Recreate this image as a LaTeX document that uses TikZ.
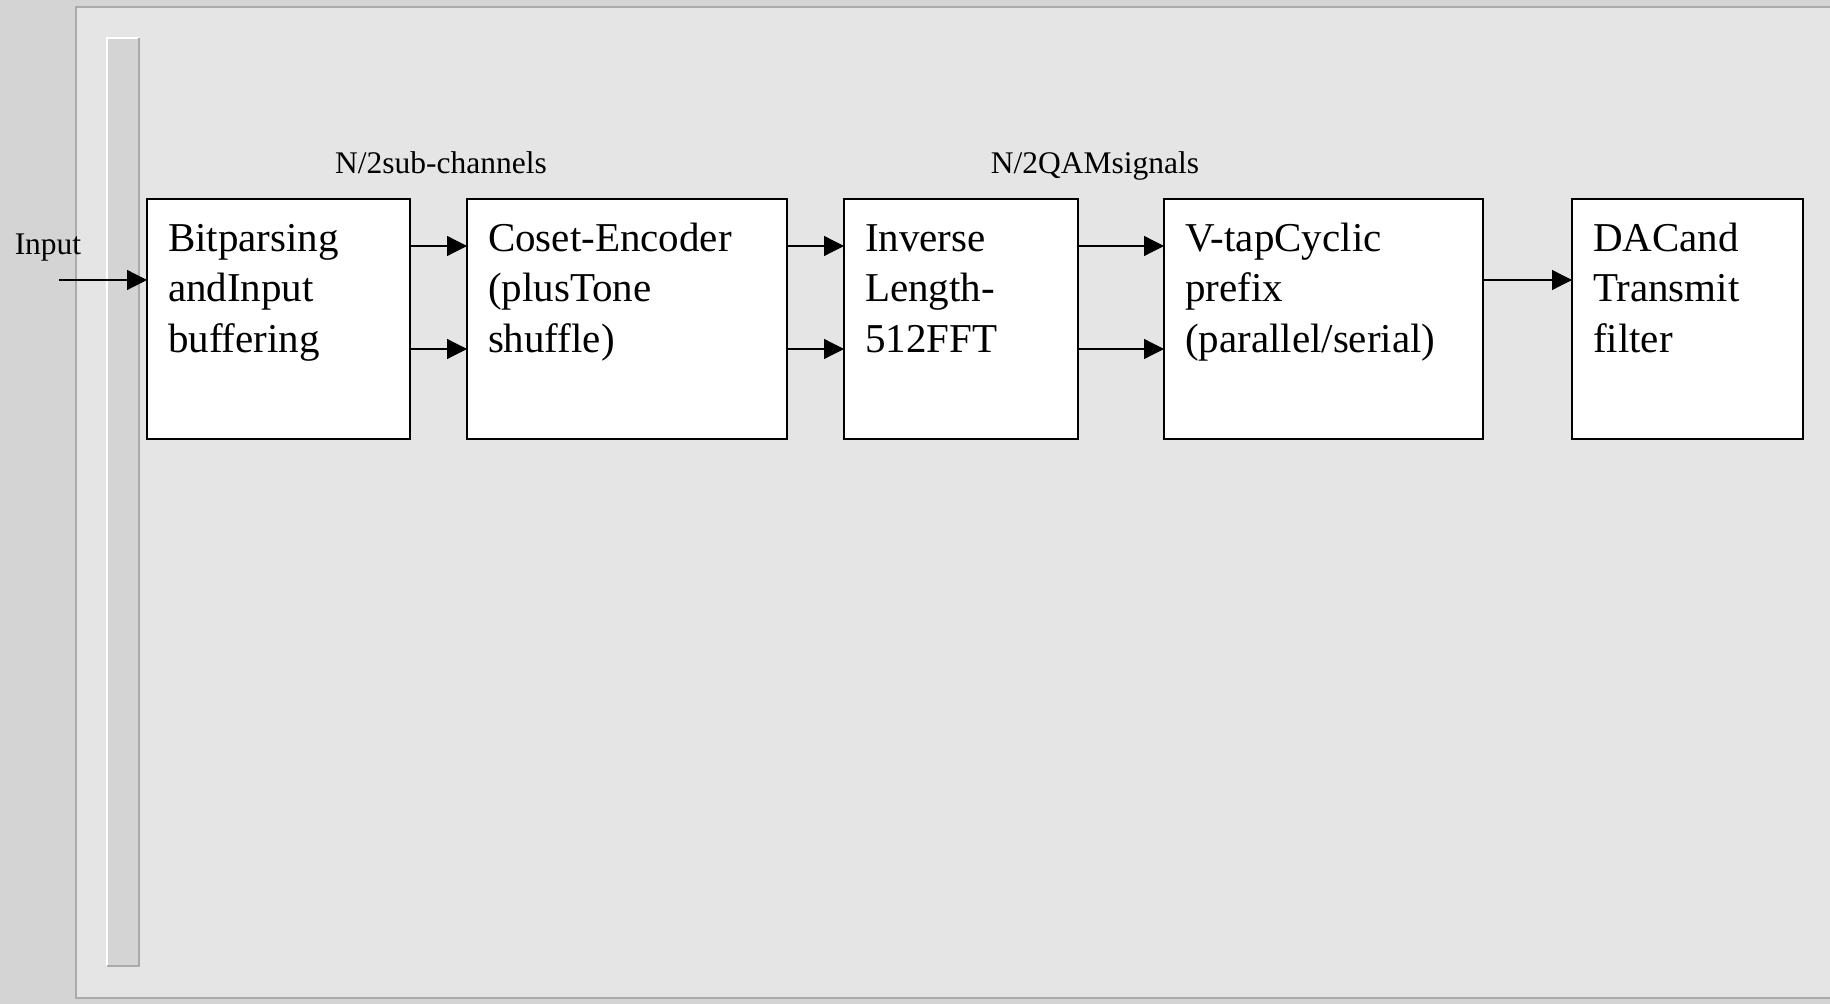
\documentclass[tikz,border=0pt]{standalone}
\usepackage{fontspec}
\setmainfont{Liberation Serif}
\usepackage{tikz}
\usetikzlibrary{arrows.meta, positioning, calc}
\definecolor{marble}{RGB}{212,212,212}
\definecolor{panel}{RGB}{229,229,229}
\definecolor{panelline}{RGB}{170,170,170}
\newcommand{\blocklines}[2]{\parbox[c][103pt][t]{#1}{\raggedright\strut #2}}
\tikzset{
  block/.style={
    rectangle, draw=black, line width=1pt, fill=white,
    inner xsep=10.5pt, inner ysep=8.5pt, outer sep=0pt,
    font=\fontsize{20.5pt}{25.25pt}\selectfont
  },
  siglabel/.style={font=\fontsize{15.75pt}{18pt}\selectfont, inner sep=0pt},
  flow/.style={-{Triangle[length=10pt, width=10pt]}, line width=0.6pt}
}

\begin{document}
\begin{tikzpicture}[x=0.5pt, y=-0.5pt]
    \useasboundingbox (0,0) rectangle (1830,1004);
    
    % Background
    \fill[marble] (0,0) rectangle (1830,1004);
    \filldraw[fill=panel, draw=panelline, line width=0.6pt] (76,7) rectangle (1840,998);
    \fill[marble] (107,38) rectangle (139,966);
    \draw[white, line width=0.6pt] (107,966) -- (107,38) -- (139,38);
    \draw[panelline, line width=0.6pt] (139,38) -- (139,966) -- (107,966);
    
    % Blocks
    \node[block, anchor=north west] (bp) at (147,199)
    {\blocklines{110.5pt}{Bitparsing\\andInput\\buffering}};
    \node[block, right=28.5pt of bp] (ce)
    {\blocklines{139pt}{Coset-Encoder\\(plusTone\\shuffle)}};
    \node[block, right=28.5pt of ce] (ifft)
    {\blocklines{96pt}{Inverse\\Length-\\512FFT}};
    \node[block, right=43pt of ifft] (cp)
    {\blocklines{138.5pt}{V-tapCyclic\\prefix\\(parallel/serial)}};
    \node[block, right=44.5pt of cp] (dac)
    {\blocklines{94.5pt}{DACand\\Transmit\\filter}};
    
    % Labels
    \node[siglabel, anchor=base] (inlbl) at (48,255) {Input};
    \node[siglabel, anchor=base] (sublbl) at (441,174) {N/2sub-channels};
    \node[siglabel, anchor=base] (qamlbl) at (1095,174) {N/2QAMsignals};
    
    % Connectors
    \coordinate (in) at (59,280);
    \draw[flow] (in) -- ([yshift=19.5pt]bp.west);
    \draw[flow] ([yshift=36.5pt]bp.east) -- ([yshift=36.5pt]ce.west);
    \draw[flow] ([yshift=-15pt]bp.east) -- ([yshift=-15pt]ce.west);
    \draw[flow] ([yshift=36.5pt]ce.east) -- ([yshift=36.5pt]ifft.west);
    \draw[flow] ([yshift=-15pt]ce.east) -- ([yshift=-15pt]ifft.west);
    \draw[flow] ([yshift=36.5pt]ifft.east) -- ([yshift=36.5pt]cp.west);
    \draw[flow] ([yshift=-15pt]ifft.east) -- ([yshift=-15pt]cp.west);
    \draw[flow] ([yshift=19.5pt]cp.east) -- ([yshift=19.5pt]dac.west);
    
\end{tikzpicture}
\end{document}
